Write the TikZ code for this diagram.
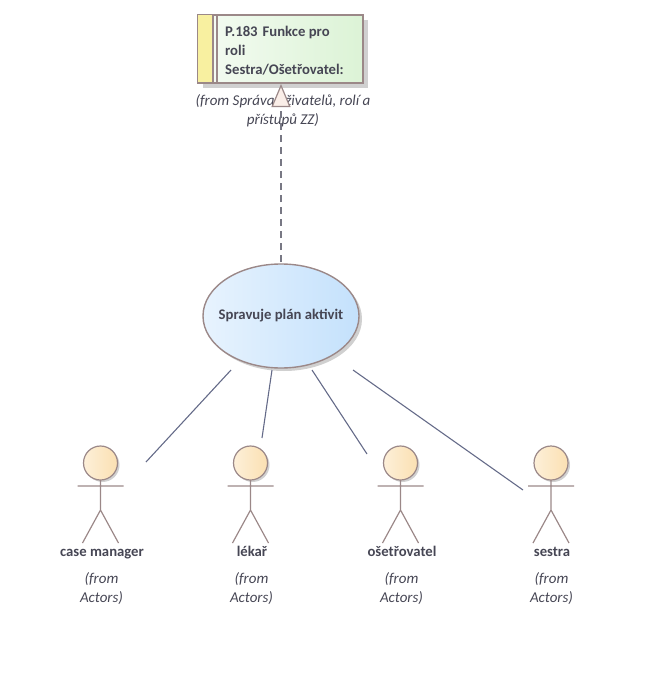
\documentclass[tikz,border=0pt]{standalone}
\usepackage{xcolor}
\usepackage{fontspec}
\setmainfont{Carlito}
\usetikzlibrary{arrows.meta,shapes.geometric,shadows}
\definecolor{edgebrown}{RGB}{155,136,136}
\definecolor{linkslate}{RGB}{100,106,136}
\definecolor{dashgray}{RGB}{120,120,132}
\definecolor{labelgray}{RGB}{70,70,84}
\definecolor{shadowgray}{RGB}{208,208,208}
\definecolor{stripeyellow}{RGB}{248,240,160}
\definecolor{reqgreen}{RGB}{220,243,214}
\definecolor{ucblue}{RGB}{196,225,252}
\definecolor{headpeach}{RGB}{251,224,178}
\definecolor{tipfill}{RGB}{250,238,232}
\tikzset{
  x=1bp, y=-1bp,
  boldlabel/.style={font=\fontsize{14.7bp}{19bp}\selectfont\bfseries, text=labelgray},
  fromlabel/.style={font=\fontsize{15bp}{19bp}\selectfont\itshape, text=labelgray, align=center},
  link/.style={draw=linkslate, line width=1.1pt},
  usecase/.style={ellipse, draw=edgebrown, line width=1.4pt, left color=white!60!ucblue, right color=ucblue,
    minimum width=156bp, minimum height=104bp, inner sep=0pt},
  pics/actorfig/.style={code={
    \fill[shadowgray] (2,2) circle[radius=17];
    \draw[edgebrown, line width=1.2pt, left color=white!50!headpeach, right color=headpeach] (0,0) circle[radius=17];
    \draw[edgebrown, line width=1.2pt] (-23,23) -- (23,23) (0,17) -- (0,47) (-18,80) -- (0,47) -- (18,80);
  }},
}
\begin{document}
\begin{tikzpicture}
  \useasboundingbox (0,0) rectangle (652,675);
  % Requirement box
  \fill[shadowgray] (203,20) rectangle (368,88);
  \node[draw=edgebrown, line width=1.4pt, left color=white!70!reqgreen, right color=reqgreen, minimum width=165bp, minimum height=68bp, inner sep=0pt] (reqbox) at (280.5,49) {};
  \draw[edgebrown, line width=1.4pt, fill=stripeyellow] (reqbox.north west) rectangle +(15,68);
  \draw[edgebrown, line width=1.4pt, fill=white!70!reqgreen] (213,15) rectangle (217,83);
  \node[boldlabel, anchor=north west, align=left, inner sep=0pt] (reqtext) at (225,25.5) {P.183\hspace{5bp}Funkce pro\\roli\\Sestra/Ošetřovatel:};
  \node[fromlabel] (reqfrom) at (283,111) {(from Správa uživatelů, rolí a\\přístupů ZZ)};

  % Use case
  \fill[shadowgray] (284,319) ellipse[x radius=78, y radius=52];
  \node[usecase] (plan) at (281,316) {};
  \node[boldlabel] (plantext) at (plan) {Spravuje plán aktivit};

  % Actors
  \pic (cm) at (100.5,463) {actorfig};
  \pic (lek) at (250.5,463) {actorfig};
  \pic (ose) at (400.5,463) {actorfig};
  \pic (ses) at (551,463) {actorfig};

  \node[boldlabel, anchor=base] (cmname) at (102,556) {case manager};
  \node[boldlabel, anchor=base] (lekname) at (252,556) {lékař};
  \node[boldlabel, anchor=base] (osename) at (402,556) {ošetřovatel};
  \node[boldlabel, anchor=base] (sesname) at (552,556) {sestra};

  \node[fromlabel] (cmfrom) at (101.5,589) {(from\\Actors)};
  \node[fromlabel] (lekfrom) at (251.5,589) {(from\\Actors)};
  \node[fromlabel] (osefrom) at (401.5,589) {(from\\Actors)};
  \node[fromlabel] (sesfrom) at (551.5,589) {(from\\Actors)};

  % Free ends of the links
  \coordinate (dashstart) at (281,262);
  \coordinate (cmstart) at (231,370);
  \coordinate (cmend) at (146,462);
  \coordinate (lekstart) at (272,370);
  \coordinate (lekend) at (262,438);
  \coordinate (osestart) at (312,370);
  \coordinate (oseend) at (367,454);
  \coordinate (sesstart) at (353,370);
  \coordinate (sesend) at (523,490);

  \draw[link] (cmstart) -- (cmend);
  \draw[link] (lekstart) -- (lekend);
  \draw[link] (osestart) -- (oseend);
  \draw[link] (sesstart) -- (sesend);
  \draw[link, draw=dashgray, dash pattern=on 7bp off 5bp, -{Triangle[length=23bp,width=19bp,fill=tipfill,color=edgebrown,line width=1.2pt]}] (dashstart) -- (281,84);
\end{tikzpicture}
\end{document}
